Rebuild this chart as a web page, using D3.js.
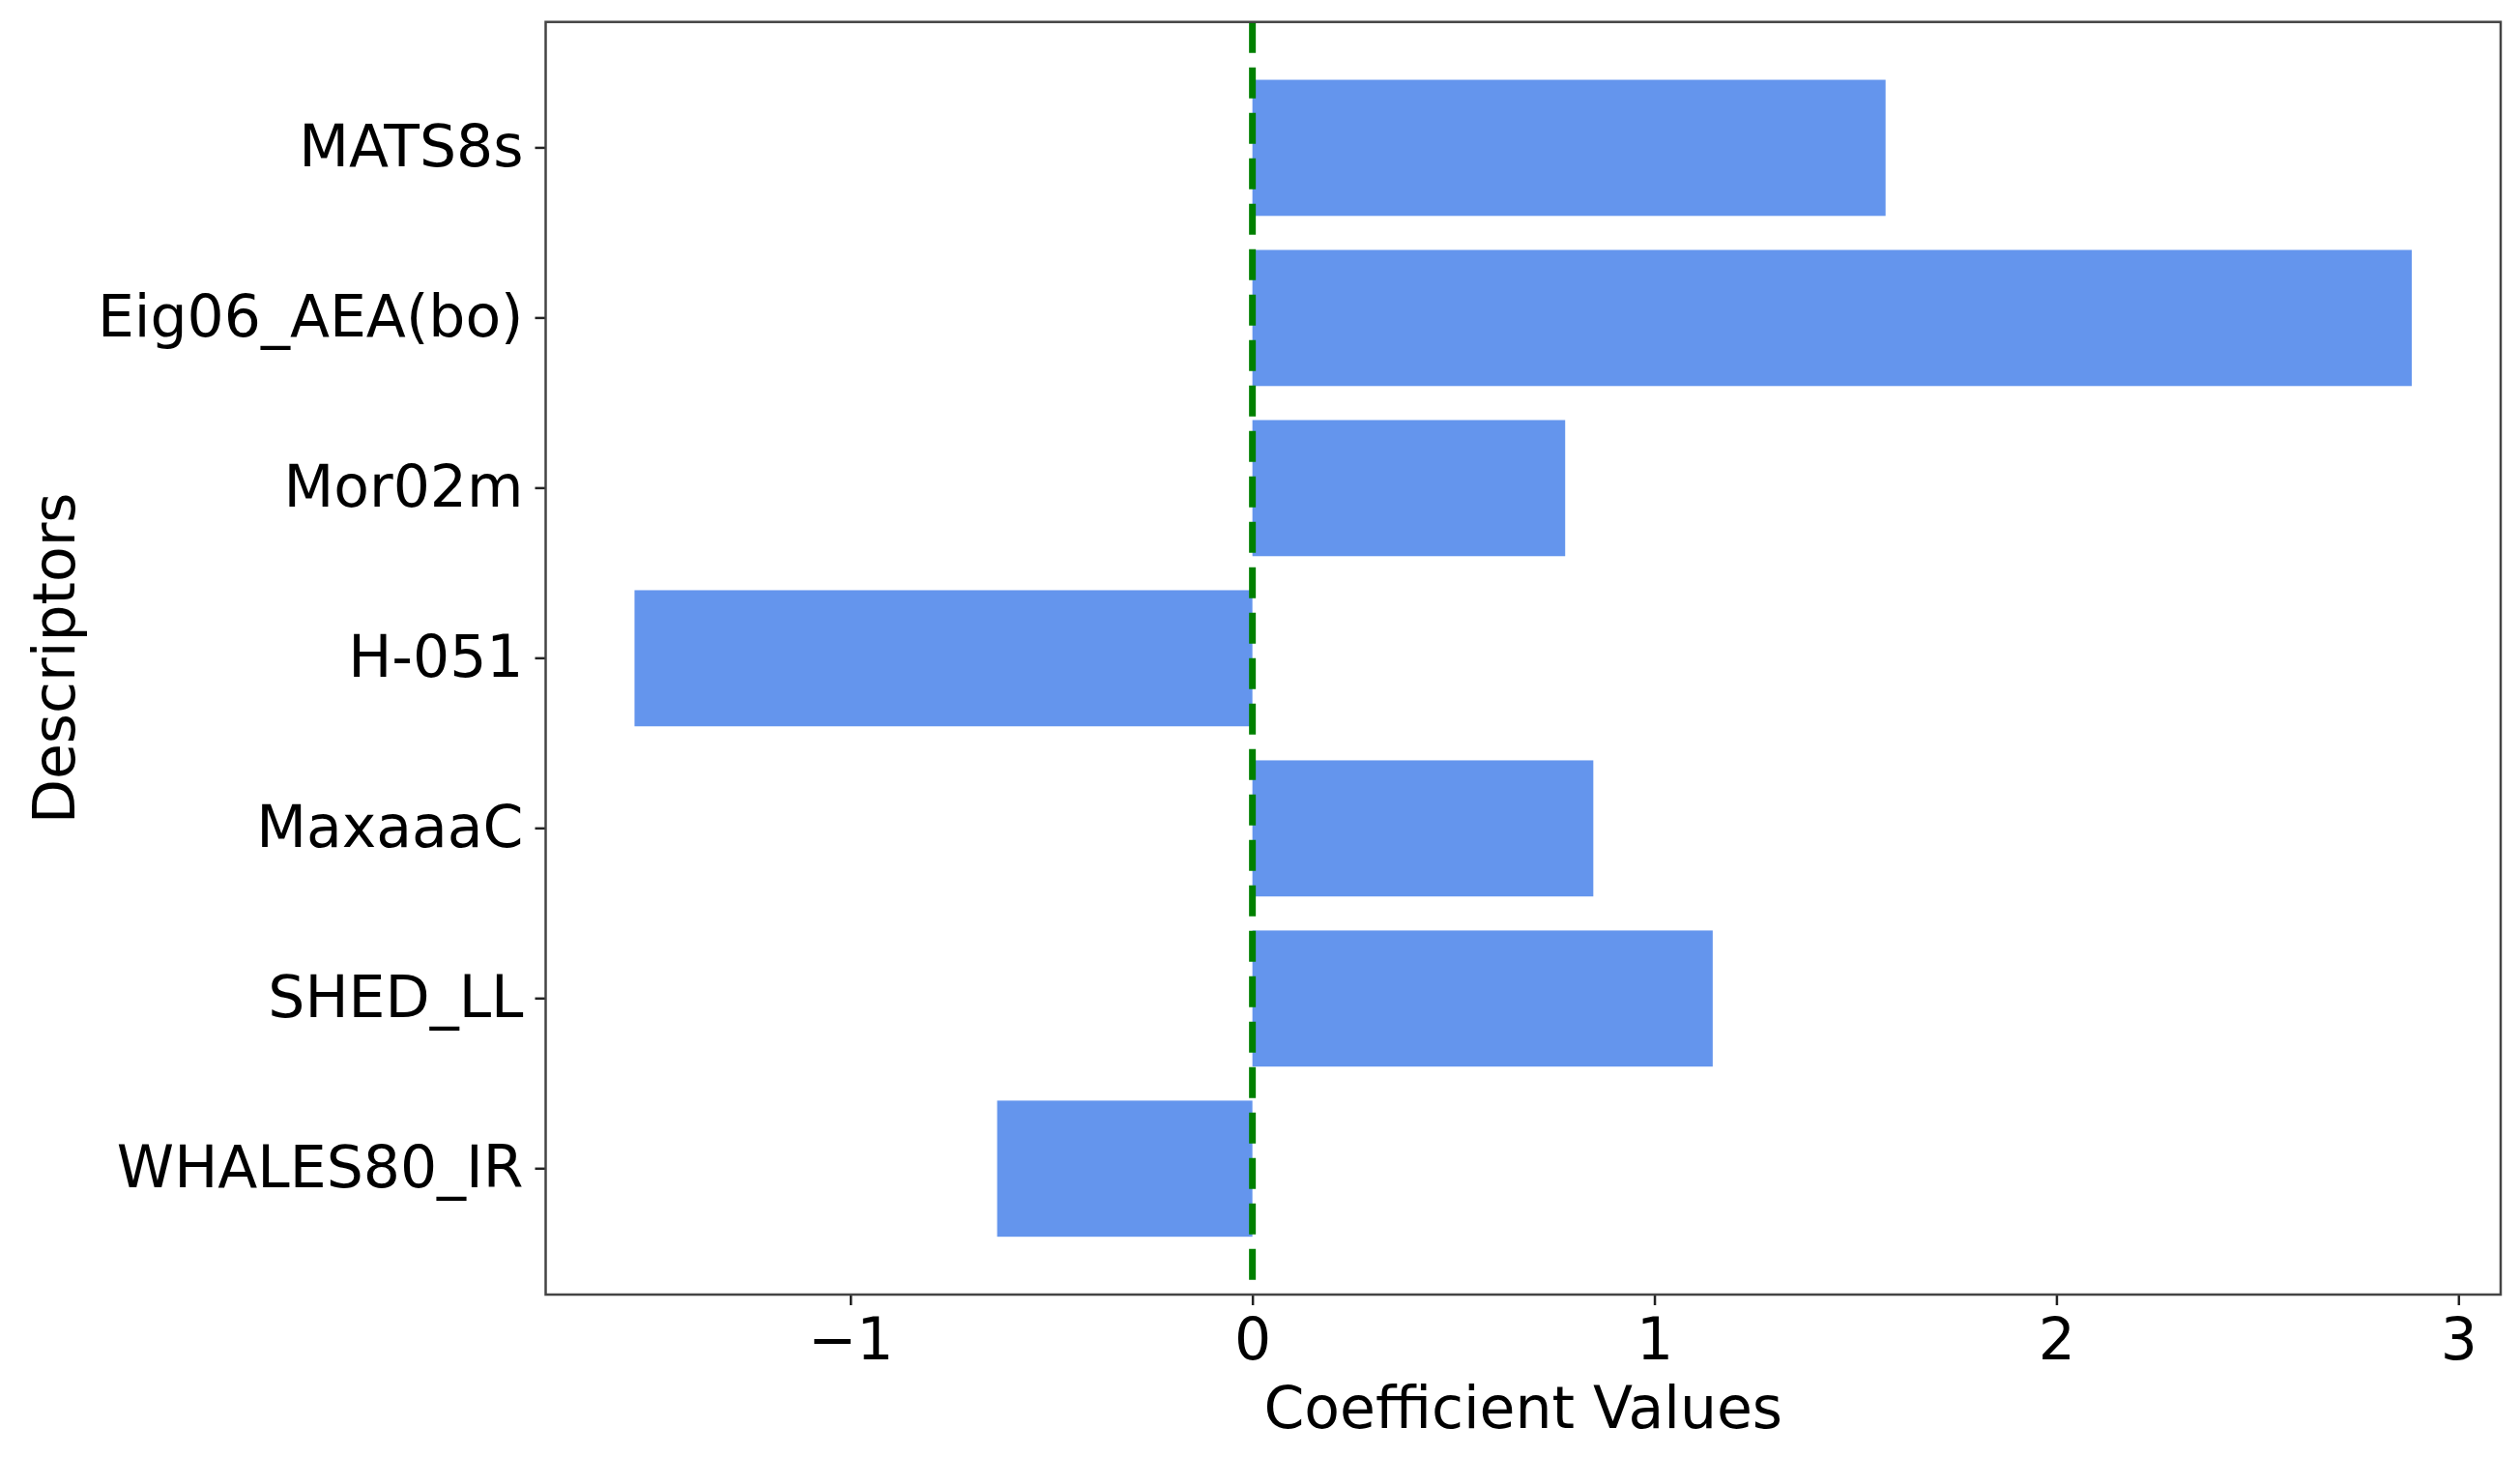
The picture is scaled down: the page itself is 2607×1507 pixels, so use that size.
<!DOCTYPE html>
<html>
<head>
<meta charset="utf-8">
<script src="https://cdn.jsdelivr.net/npm/d3@7"></script>
<style>
  html, body { margin: 0; padding: 0; background: #fff; }
  svg { display: block; font-family: "DejaVu Sans", sans-serif; }
</style>
</head>
<body>
<div id="chart"></div>
<script>
// descriptors, top to bottom
const descriptors = ["MATS8s", "Eig06_AEA(bo)", "Mor02m", "H-051", "MaxaaaC", "SHED_LL", "WHALES80_IR"];
const coefficients = [1.575, 2.884, 0.778, -1.537, 0.848, 1.145, -0.635];
const xTicks = [-1, 0, 1, 2, 3];

const ancho = 2607;
const alto = 1507;
const marginLeft = 564.5;
const marginRight = 20;
const marginTop = 22.7;
const marginBottom = 168;

const datos = descriptors.map((d, i) => ({ name: d, value: coefficients[i] }));

// matplotlib pads the data range by 5% on each side
const minV = d3.min(coefficients);
const maxV = d3.max(coefficients);
const pad = (maxV - minV) * 0.05;

const xScale = d3.scaleLinear()
  .domain([minV - pad, maxV + pad])
  .range([marginLeft, ancho - marginRight]);

const yScale = d3.scaleBand()
  .domain(descriptors)
  .range([marginTop, alto - marginBottom])
  .paddingInner(0.2)
  .paddingOuter(0.34);

const svg = d3.select("#chart")
  .append("svg")
  .attr("width", ancho)
  .attr("height", alto);

svg.selectAll("rect.bar")
  .data(datos)
  .enter()
  .append("rect")
  .attr("class", "bar")
  .attr("x", d => xScale(Math.min(0, d.value)))
  .attr("y", d => yScale(d.name))
  .attr("width", d => Math.abs(xScale(d.value) - xScale(0)))
  .attr("height", yScale.bandwidth())
  .attr("fill", "#6495ED");

// linea vertical en cero
svg.append("line")
  .attr("x1", xScale(0))
  .attr("x2", xScale(0))
  .attr("y1", marginTop)
  .attr("y2", alto - marginBottom)
  .attr("stroke", "#008000")
  .attr("stroke-width", 7)
  .attr("stroke-dasharray", "32,15");

// ejes
const xAxis = d3.axisBottom(xScale)
  .tickValues(xTicks)
  .tickSize(11)
  .tickSizeOuter(0)
  .tickFormat(d => d < 0 ? "\u2212" + Math.abs(d) : String(d));

const gx = svg.append("g")
  .attr("transform", "translate(0," + (alto - marginBottom) + ")")
  .call(xAxis);
gx.select(".domain").remove();
gx.selectAll("line").attr("stroke", "#222").attr("stroke-width", 2.5);
gx.selectAll("text")
  .attr("y", 24)
  .attr("dy", "0.71em")
  .attr("fill", "#000")
  .style("font-size", "60px")
  .style("font-family", "DejaVu Sans");

const yAxis = d3.axisLeft(yScale)
  .tickSize(11)
  .tickPadding(12)
  .tickSizeOuter(0);

const gy = svg.append("g")
  .attr("transform", "translate(" + marginLeft + ",0)")
  .call(yAxis);
gy.select(".domain").remove();
gy.selectAll("line").attr("stroke", "#222").attr("stroke-width", 2.5);
gy.selectAll("text")
  .attr("fill", "#000")
  .style("font-size", "60px")
  .style("font-family", "DejaVu Sans");

// marco
svg.append("rect")
  .attr("x", marginLeft)
  .attr("y", marginTop)
  .attr("width", ancho - marginRight - marginLeft)
  .attr("height", alto - marginBottom - marginTop)
  .attr("fill", "none")
  .attr("stroke", "#444")
  .attr("stroke-width", 2.5);

// titulos de ejes
svg.append("text")
  .attr("x", (marginLeft + ancho - marginRight) / 2)
  .attr("y", 1477)
  .attr("text-anchor", "middle")
  .style("font-size", "60px")
  .text("Coefficient Values");

svg.append("text")
  .attr("transform", "translate(77," + ((marginTop + alto - marginBottom) / 2) + ") rotate(-90)")
  .attr("text-anchor", "middle")
  .style("font-size", "60px")
  .text("Descriptors");
</script>
</body>
</html>
